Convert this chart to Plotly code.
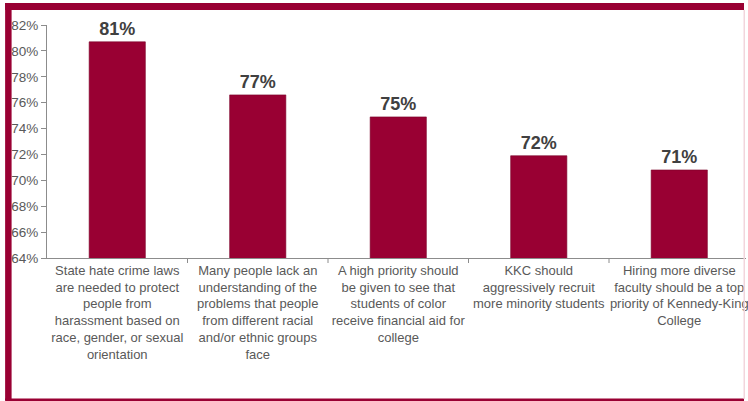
import plotly.graph_objects as go

# Survey statements (wrapped for the category axis) and share agreeing
statements = [
    "State hate crime laws<br>are needed to protect<br>people from<br>harassment based on<br>race, gender, or sexual<br>orientation",
    "Many people lack an<br>understanding of the<br>problems that people<br>from different racial<br>and/or ethnic groups<br>face",
    "A high priority should<br>be given to see that<br>students of color<br>receive financial aid for<br>college",
    "KKC should<br>aggressively recruit<br>more minority students",
    "Hiring more diverse<br>faculty should be a top<br>priority of Kennedy-King<br>College",
]
agree_share = [0.807, 0.766, 0.749, 0.719, 0.708]
y_ticks = [0.64, 0.66, 0.68, 0.70, 0.72, 0.74, 0.76, 0.78, 0.80, 0.82]

W, H = 748, 401
L, R, T, B = 47, 0, 25, 143
plot_w = W - L - R
plot_h = H - T - B
MAROON = "#990033"
FONT = "Liberation Sans, Arial, sans-serif"


def px_x(p):
    return (p - L) / plot_w


def px_y(p):
    return (H - B - p) / plot_h


fig = go.Figure(
    go.Bar(
        x=list(range(len(statements))),
        y=agree_share,
        marker=dict(color=MAROON, line=dict(color="#7a0028", width=0.6)),
        texttemplate="<b>%{y:.0%}</b>",
        textposition="outside",
        textfont=dict(family=FONT, size=18, color="#404040"),
        cliponaxis=False,
        width=0.40,
    )
)

axis_grey = "#8c8c8c"
tick_font = dict(family=FONT, size=13, color="#595959")

fig.update_xaxes(
    tickmode="array",
    tickvals=list(range(len(statements))),
    ticktext=statements,
    range=[-0.5, 4.475],
    showline=True,
    linecolor=axis_grey,
    linewidth=1,
    ticks="",
    showgrid=False,
    tickfont=tick_font,
    ticklabeloverflow="allow",
    zeroline=False,
)
fig.update_yaxes(
    range=[0.64, 0.82],
    tickvals=y_ticks,
    tickformat=".0%",
    showline=True,
    linecolor=axis_grey,
    linewidth=1,
    ticks="outside",
    ticklen=5,
    tickcolor=axis_grey,
    showgrid=False,
    zeroline=False,
    tickfont=dict(family=FONT, size=13.5, color="#595959"),
)

shapes = []
# category boundary tick marks on the x axis
for k in range(1, len(statements)):
    shapes.append(dict(type="line", xref="x", yref="paper", x0=k - 0.5, x1=k - 0.5,
                       y0=0, y1=px_y(H - B + 5), line=dict(color=axis_grey, width=1)))
# maroon frame
frame = [
    (5, 3, 11.5, 400),      # left
    (5, 3, 746, 10),        # top
    (5, 398.5, 746, 401),   # bottom
]
for x0, y0, x1, y1 in frame:
    shapes.append(dict(type="rect", xref="paper", yref="paper", layer="above",
                       x0=px_x(x0), x1=px_x(x1), y0=px_y(y0), y1=px_y(y1),
                       fillcolor=MAROON, line=dict(width=0)))
shapes.append(dict(type="rect", xref="paper", yref="paper", layer="above",
                   x0=px_x(745.5), x1=px_x(747), y0=px_y(10), y1=px_y(399),
                   fillcolor="#f2d5dc", line=dict(width=0)))

fig.update_layout(
    width=W,
    height=H,
    margin=dict(l=L, r=R, t=T, b=B),
    paper_bgcolor="white",
    plot_bgcolor="white",
    showlegend=False,
    shapes=shapes,
    font=dict(family=FONT),
)

fig.write_html("out.html")
